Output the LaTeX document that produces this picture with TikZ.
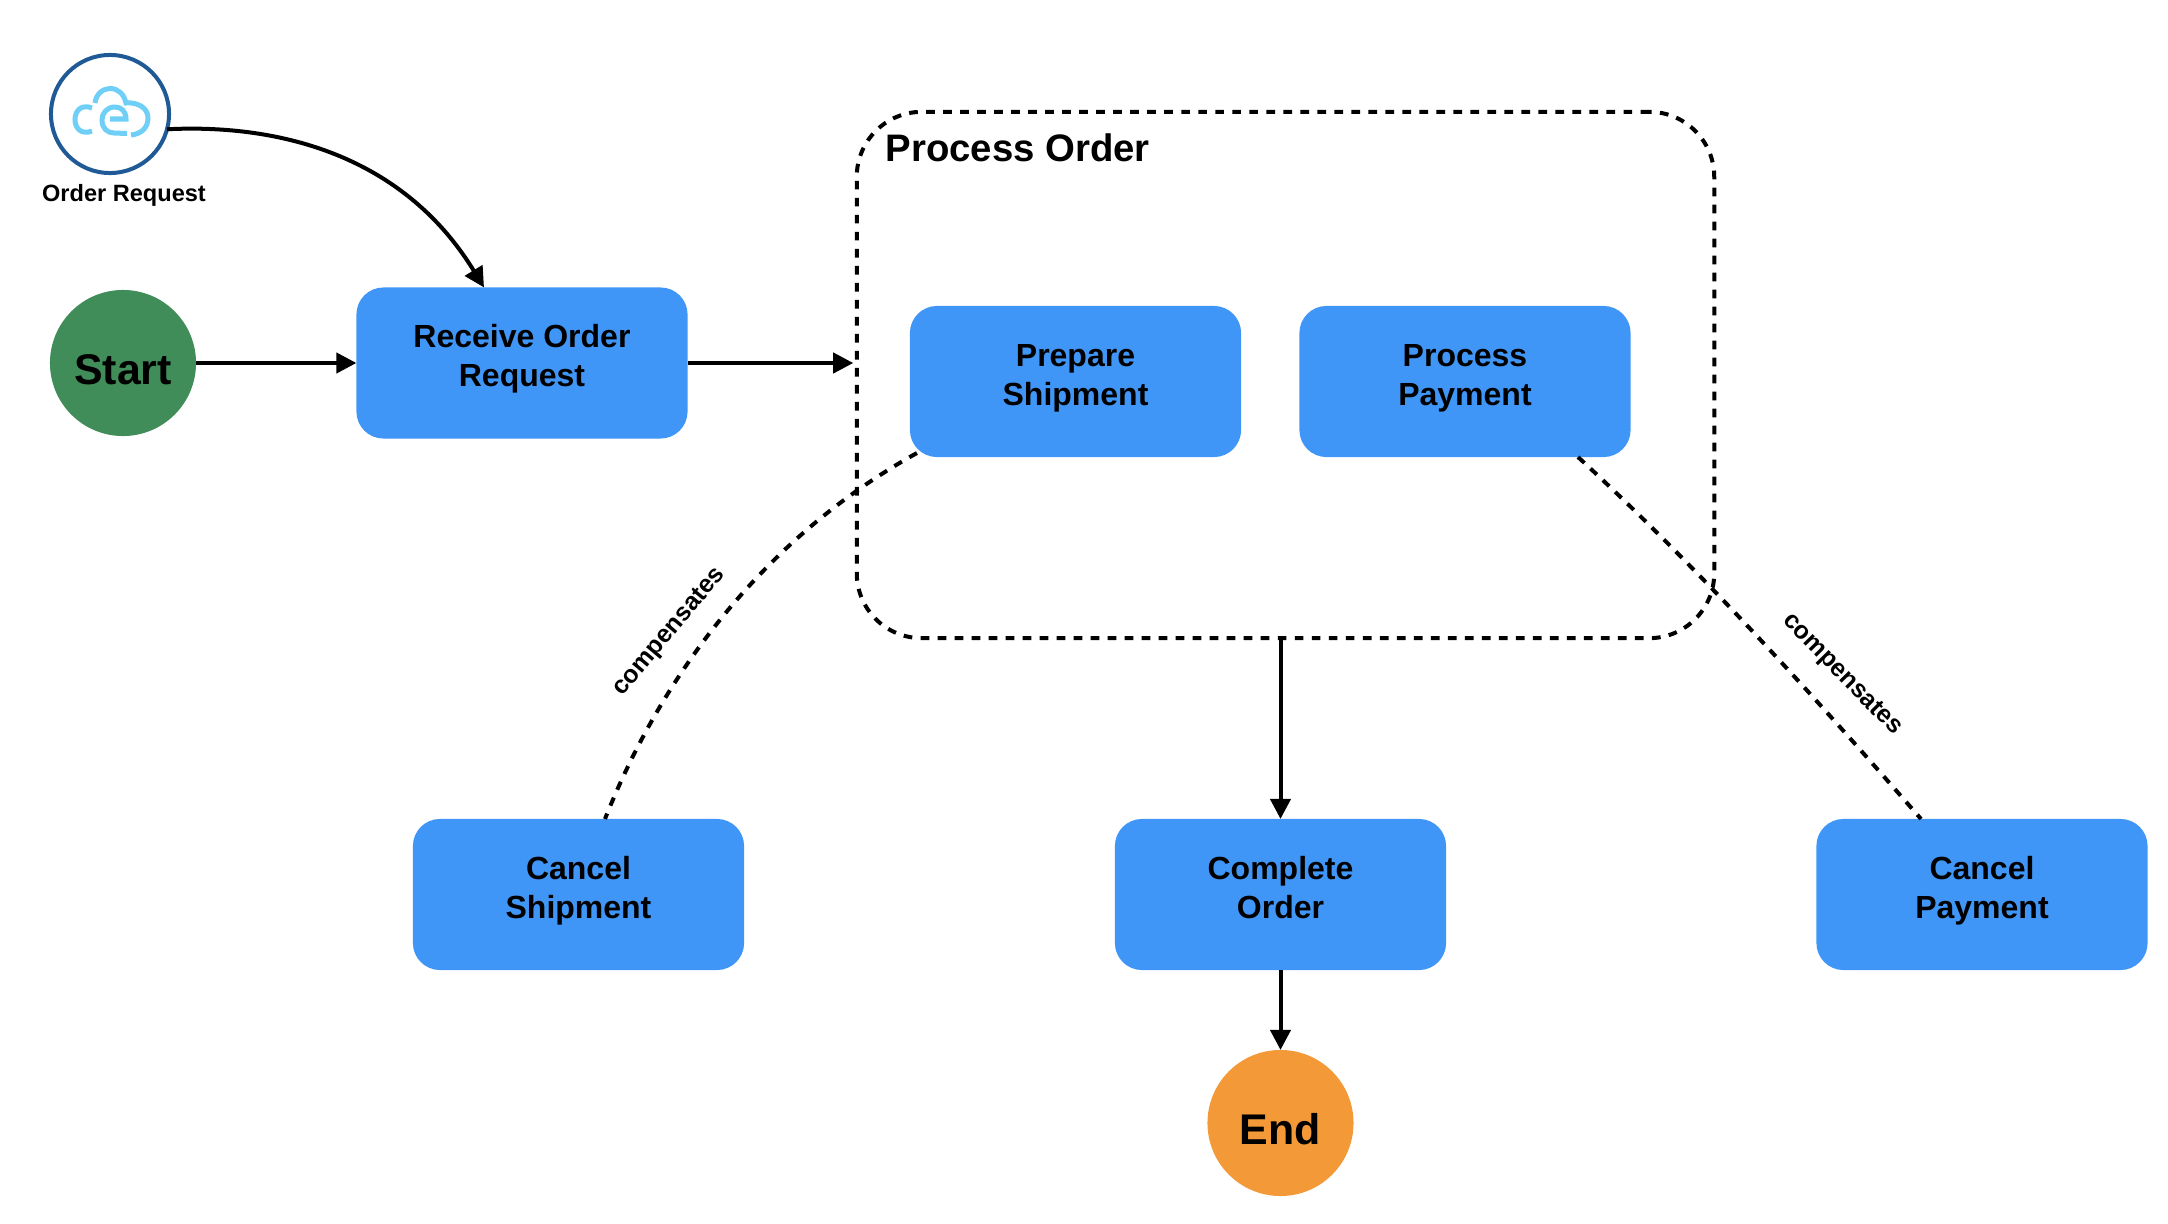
\documentclass[tikz,border=0pt]{standalone}
\usepackage{fontspec}
\setmainfont{Liberation Sans}
\usetikzlibrary{arrows.meta,calc}
\definecolor{boxblue}{RGB}{64,150,247}
\definecolor{startgreen}{RGB}{65,141,90}
\definecolor{endorange}{RGB}{243,153,55}
\definecolor{ringblue}{RGB}{31,90,150}
\definecolor{cloudblue}{RGB}{111,207,246}
\newcommand{\twolines}[2]{\rule{0pt}{7pt}#1\\#2\rule[-4.6pt]{0pt}{4.6pt}}
\tikzset{
  taskbox/.style={fill=boxblue, rounded corners=.27cm, minimum width=3.31cm, minimum height=1.51cm, inner sep=0, outer sep=0, align=center, font=\fontsize{9.1}{11}\selectfont\bfseries},
  terminal/.style={circle, minimum size=1.46cm, inner sep=0, outer sep=0, text height=12.6pt, font=\fontsize{12.2}{14}\selectfont\bfseries},
  flow/.style={line width=.04cm, -{Triangle[length=.2cm,width=.2cm]}},
  comp/.style={line width=.04cm, dash pattern=on .087cm off .083cm},
  complabel/.style={font=\fontsize{7.1}{8}\selectfont\bfseries},
  cloudline/.style={cloudblue, line width=.05cm},
}
\begin{document}
\begin{tikzpicture}[x=.01cm,y=-.01cm]
\useasboundingbox (0,0) rectangle (2168,1224);
% group
\node (proc) at (1285.5,375) [comp, draw, rounded corners=.65cm, minimum width=8.57cm, minimum height=5.26cm, inner sep=0, outer sep=0]{};
\node (proctitle) at (885,148) [anchor=west, inner sep=0, font=\fontsize{10.9}{13}\selectfont\bfseries]{Process Order};
% tasks
\node (recv) at (522,363) [taskbox]{\twolines{Receive Order}{Request}};
\node (prep) at (1075.5,381.5) [taskbox]{\twolines{Prepare}{Shipment}};
\node (pay) at (1465,381.5) [taskbox]{\twolines{Process}{Payment}};
\node (cship) at (578.5,894.5) [taskbox]{\twolines{Cancel}{Shipment}};
\node (done) at (1280.5,894.5) [taskbox]{\twolines{Complete}{Order}};
\node (cpay) at (1982,894.5) [taskbox]{\twolines{Cancel}{Payment}};
\node (start) at (123,363) [terminal, fill=startgreen]{Start};
\node (finish) at (1280.5,1123) [terminal, fill=endorange]{End};
% trigger
\node (order) at (110,114) [circle, draw=ringblue, line width=.04cm, minimum size=1.18cm, inner sep=0, outer sep=0]{};
\node (orderlabel) at (124,195) [inner sep=0, font=\fontsize{6.7}{8}\selectfont\bfseries]{Order Request};
\draw[cloudline] (92,108) .. controls (82,104) and (75,110) .. (75,119.5) .. controls (75,129) and (82,135) .. (92,131);
\draw[cloudline] (110,119) -- (126,119) .. controls (126,111) and (121,107) .. (115,107) .. controls (107,107) and (102,113) .. (102,120) .. controls (102,128) and (107,133) .. (114,133) -- (127,133.5);
\draw[cloudline] (95,103) .. controls (96,94) and (103,88.5) .. (110,88.5) .. controls (118,88.5) and (124,94) .. (126,103) .. controls (138,102) and (148,108) .. (148,118) .. controls (148,128) and (141,134) .. (131,135);
% arrows
\draw[flow] (start) -- (recv);
\draw[flow, shorten >=.035cm] (recv.east) -- (recv.east -| proc.west);
\draw[flow] (order.-15) .. controls (270,124) and (400,150) .. ($(recv.north)+(-38,0)$);
\draw[flow] (proc.south -| done.north) -- (done.north);
\draw[flow] (done) -- (finish);
% compensation
\draw[comp, dash pattern=on .087cm off .086cm] ($(prep.south west)+(7,-4)$) .. controls (760,540) and (660,680) .. ($(cship.north)+(26.5,0)$);
\draw[comp] ($(pay.south)+(113,0)$) .. controls (1690,560) and (1800,680) .. ($(cpay.north)+(-61,0)$);
\node (compl) at (670,632) [complabel, rotate=50]{compensates};
\node (compr) at (1842,675) [complabel, rotate=-45.5]{compensates};
\end{tikzpicture}
\end{document}
